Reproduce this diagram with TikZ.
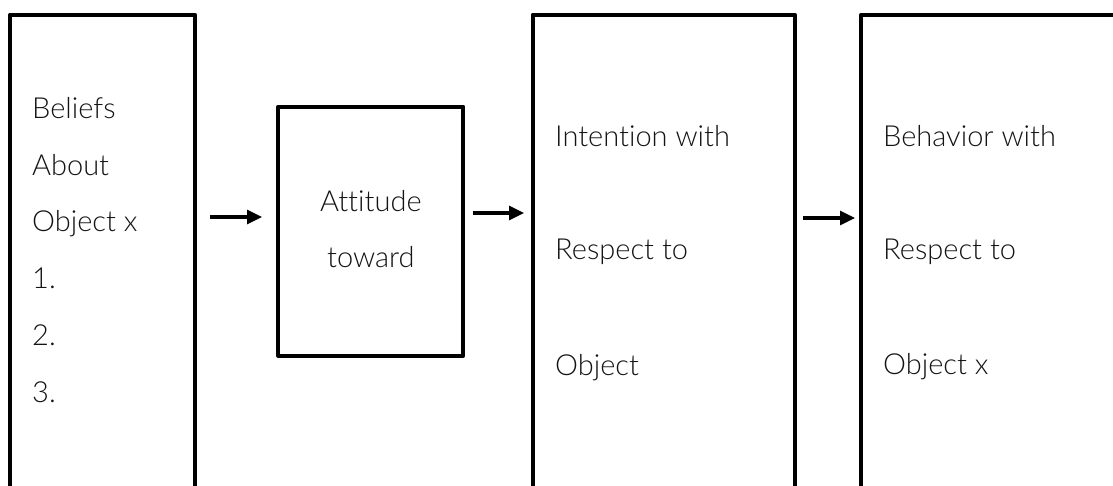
\documentclass[tikz,border=0pt]{standalone}
\usepackage{fontspec}
\setmainfont[Ligatures=NoCommon]{Lato Light}
\usetikzlibrary{arrows.meta}
\tikzset{
  box/.style={draw=black, line width=4pt, line join=round, outer sep=0pt, inner sep=0pt, anchor=north west},
  lbl/.style={anchor=base west, inner sep=0pt, font=\fontsize{29}{33}\selectfont, text=black!92},
  clbl/.style={anchor=base, inner sep=0pt, font=\fontsize{29}{33}\selectfont, text=black!92},
  arr/.style={line width=3.2pt, -{Triangle[length=15pt,width=14pt]}}
}
\begin{document}
\begin{tikzpicture}[x=1pt, y=-1pt]
\useasboundingbox (0,0) rectangle (1113,486);
\clip (0,0) rectangle (1113,486);
\fill[white] (0,0) rectangle (1113,486);

% the four stages
\node[box, minimum width=185pt, minimum height=520pt] (b1) at (10,14.7) {};
\node[box, minimum width=185pt, minimum height=249pt] (b2) at (278.3,106.7) {};
\node[box, minimum width=262pt, minimum height=520pt] (b3) at (532.7,14.7) {};
\node[box, minimum width=300pt, minimum height=520pt] (b4) at (861.3,14.7) {};

% beliefs
\node[lbl] (t11) at (32,119) {Beliefs};
\node[lbl] (t12) at (32,176) {About};
\node[lbl] (t13) at (32,232) {Object x};
\node[lbl] (t14) at (32,288) {1.};
\node[lbl] (t15) at (32,345) {2.};
\node[lbl] (t16) at (32,402) {3.};

% attitude
\node[clbl] (t21) at (370.8,212) {Attitude};
\node[clbl] (t22) at (370.8,268) {toward};

% intention
\node[lbl] (t31) at (555,147) {Intention with};
\node[lbl] (t32) at (555,260) {Respect to};
\node[lbl] (t33) at (555,375) {Object};

% behavior
\node[lbl] (t41) at (883,147) {Behavior with};
\node[lbl] (t42) at (883,260) {Respect to};
\node[lbl] (t43) at (883,374) {Object x};

% connectors
\draw[arr] ([shift={(15,202.3)}]b1.north east) -- ([shift={(-16.3,110.3)}]b2.north west);
\draw[arr] ([shift={(9.7,106.3)}]b2.north east) -- ([shift={(-8.7,198.3)}]b3.north west);
\draw[arr] ([shift={(8.3,203.3)}]b3.north east) -- ([shift={(-6.3,203.3)}]b4.north west);
\end{tikzpicture}
\end{document}
